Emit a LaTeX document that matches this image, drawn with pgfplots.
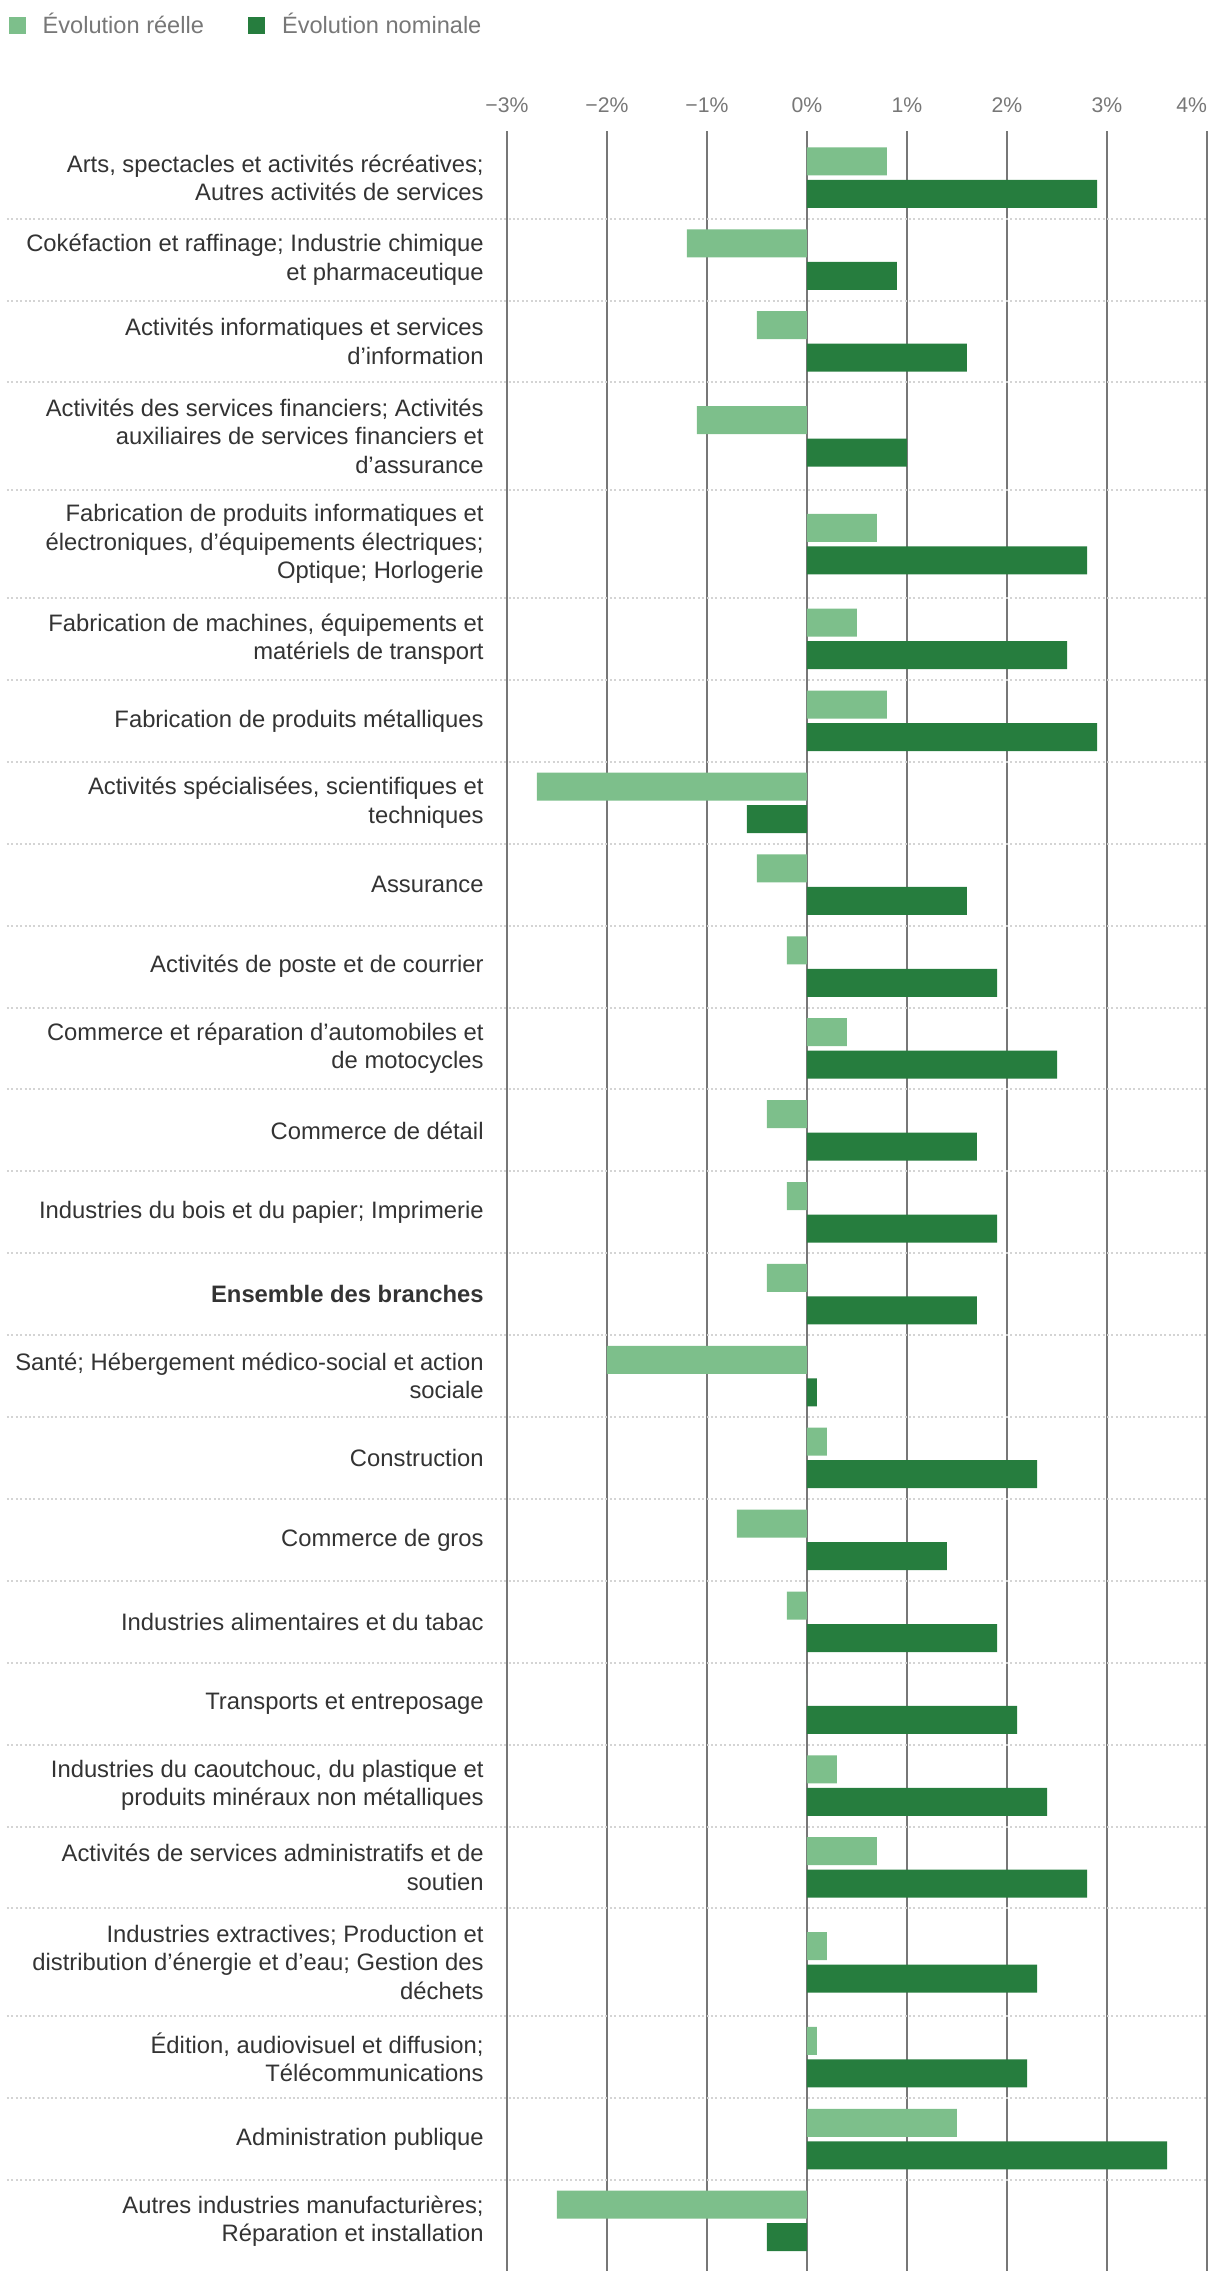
\documentclass[border=0pt]{standalone}
\usepackage{fontspec}
\setmainfont{Liberation Sans}
\usepackage{pgfplots}
\usepackage{pgfplotstable}
\pgfplotsset{compat=1.18}
\definecolor{reel}{HTML}{7DBF8B}
\definecolor{nom}{HTML}{267D3E}
\definecolor{gridc}{HTML}{777777}
\definecolor{sepc}{HTML}{D4D4D4}
\definecolor{labc}{HTML}{333333}
\definecolor{tickc}{HTML}{777777}

\pgfplotstableread{
pos real nom
177.65 0.8 2.9
259.55 -1.2 0.9
341.45 -0.5 1.6
436.3 -1.1 1.0
544.1 0.7 2.8
638.95 0.5 2.6
720.85 0.8 2.9
802.75 -2.7 -0.6
884.65 -0.5 1.6
966.55 -0.2 1.9
1048.45 0.4 2.5
1130.35 -0.4 1.7
1212.25 -0.2 1.9
1294.15 -0.4 1.7
1376.05 -2.0 0.1
1457.95 0.2 2.3
1539.85 -0.7 1.4
1621.75 -0.2 1.9
1703.65 0.0 2.1
1785.55 0.3 2.4
1867.45 0.7 2.8
1962.3 0.2 2.3
2057.15 0.1 2.2
2139.05 1.5 3.6
2220.95 -2.5 -0.4
}\data

\begin{document}
\begin{tikzpicture}
\begin{axis}[
 x=50pt, y=0.5pt, y dir=reverse,
 xmin=-3, xmax=4, ymin=131, ymax=2271,
 axis line style={draw=none},
 major tick length=0pt,
 xtick={-3,-2,-1,0,1,2,3,4},
 xticklabels={−3\%,−2\%,−1\%,0\%,1\%,2\%,3\%,\makebox[0pt][r]{4\%}},
 xticklabel pos=top,
 xticklabel style={font=\fontsize{10.6pt}{12pt}\selectfont, text=tickc, anchor=center, yshift=13pt},
 xmajorgrids, grid style={gridc, line width=0.75pt},
 ytick={177.65,259.55,341.45,436.3,544.1,638.95,720.85,802.75,884.65,966.55,1048.45,1130.35,1212.25,1294.15,1376.05,1457.95,1539.85,1621.75,1703.65,1785.55,1867.45,1962.3,2057.15,2139.05,2220.95},
 yticklabels={
  {Arts, spectacles et activités récréatives;\\Autres activités de services},
  {Cokéfaction et raffinage; Industrie chimique\\et pharmaceutique},
  {Activités informatiques et services\\d’information},
  {Activités des services financiers; Activités\\auxiliaires de services financiers et\\d’assurance},
  {Fabrication de produits informatiques et\\électroniques, d’équipements électriques;\\Optique; Horlogerie},
  {Fabrication de machines, équipements et\\matériels de transport},
  {Fabrication de produits métalliques},
  {Activités spécialisées, scientifiques et\\techniques},
  {Assurance},
  {Activités de poste et de courrier},
  {Commerce et réparation d’automobiles et\\de motocycles},
  {Commerce de détail},
  {Industries du bois et du papier; Imprimerie},
  {\textbf{Ensemble des branches}},
  {Santé; Hébergement médico-social et action\\sociale},
  {Construction},
  {Commerce de gros},
  {Industries alimentaires et du tabac},
  {Transports et entreposage},
  {Industries du caoutchouc, du plastique et\\produits minéraux non métalliques},
  {Activités de services administratifs et de\\soutien},
  {Industries extractives; Production et\\distribution d’énergie et d’eau; Gestion des\\déchets},
  {Édition, audiovisuel et diffusion;\\Télécommunications},
  {Administration publique},
  {Autres industries manufacturières;\\Réparation et installation}},
 yticklabel style={align=right, font=\fontsize{11.9pt}{14.2pt}\selectfont, text=labc, anchor=east, inner sep=0pt, xshift=-11.5pt},
 clip=false,
 legend columns=2,
 legend cell align=left,
 legend style={at={(-0.7119,1.0495)}, anchor=west, draw=none, fill=none,
   font=\fontsize{11.8pt}{13pt}\selectfont, text=tickc, inner sep=0pt, outer sep=0pt,
   nodes={inner sep=0pt},
   /tikz/every odd column/.append style={column sep=8.5pt},
   /tikz/every even column/.append style={column sep=22pt}},
]
\pgfplotsinvokeforeach{218.6,300.5,382.4,490.2,598.0,679.9,761.8,843.7,925.6,1007.5,1089.4,1171.3,1253.2,1335.1,1417.0,1498.9,1580.8,1662.7,1744.6,1826.5,1908.4,2016.2,2098.1,2180.0}{
  \draw[sepc, line width=1pt, dash pattern=on 1pt off 1.2pt] (axis cs:-8.0,#1) -- (axis cs:4,#1);
}
\addplot[xbar, bar width=14pt, bar shift=8.125pt, fill=reel, draw=none,
  legend image code/.code={\fill[reel] (0pt,-4.25pt) rectangle (8.5pt,4.25pt);}]
  table[x=real, y=pos] {\data};
\addlegendentry{Évolution réelle}
\addplot[xbar, bar width=14pt, bar shift=-8.125pt, fill=nom, draw=none,
  legend image code/.code={\fill[nom] (0pt,-4.25pt) rectangle (8.5pt,4.25pt);}]
  table[x=nom, y=pos] {\data};
\addlegendentry{Évolution nominale}
\coordinate (bbA) at (axis cs:-8.07,0);
\coordinate (bbB) at (axis cs:4.13,2286);
\end{axis}
\pgfresetboundingbox
\path[use as bounding box] (bbA) rectangle (bbB);
\end{tikzpicture}
\end{document}
